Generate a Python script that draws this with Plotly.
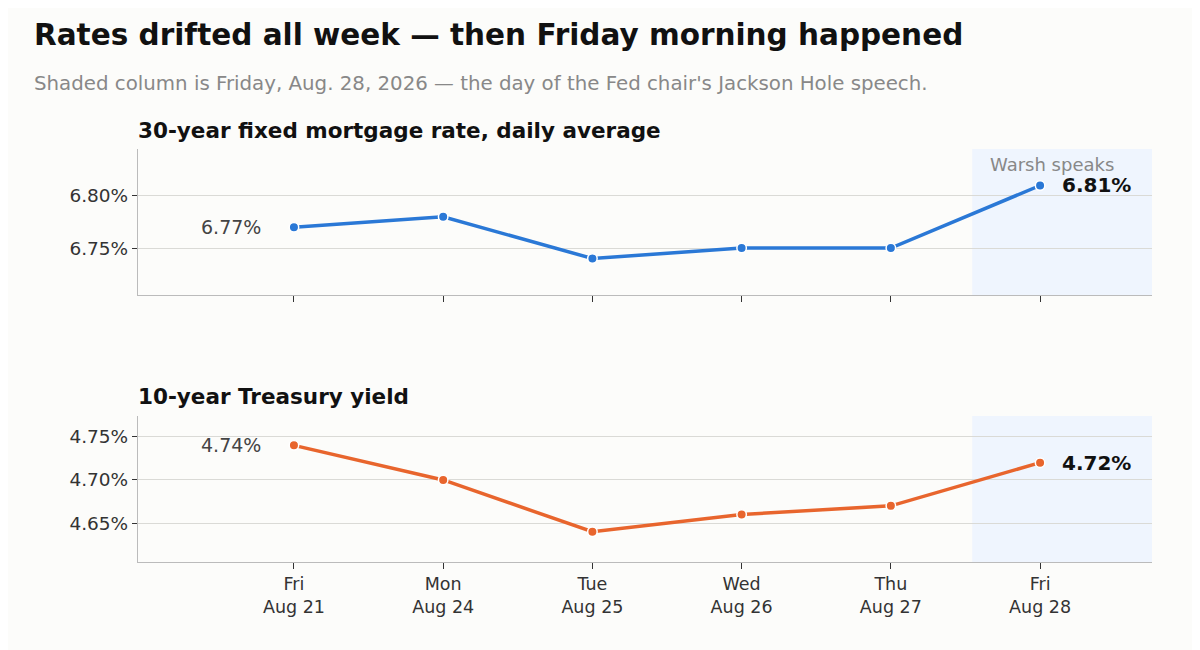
import plotly.graph_objects as go

days = ["Fri<br>Aug 21", "Mon<br>Aug 24", "Tue<br>Aug 25", "Wed<br>Aug 26", "Thu<br>Aug 27", "Fri<br>Aug 28"]
mortgage = [6.77, 6.78, 6.74, 6.75, 6.75, 6.81]
treasury = [4.74, 4.70, 4.64, 4.66, 4.67, 4.72]
mortgage_ticks = [6.75, 6.80]
treasury_ticks = [4.65, 4.70, 4.75]

BLUE = "#2a78d6"
ORANGE = "#e8652d"
FONT = "DejaVu Sans"
W, H = 1200, 650
OFF = 8  # page body margin
xpos = list(range(len(days)))


def px(x):
    return (x - OFF) / W


def py(y):
    return 1 - (y - OFF) / H


fig = go.Figure()

fig.add_trace(go.Scatter(
    x=xpos, y=mortgage, mode="lines+markers",
    line=dict(color=BLUE, width=3.5),
    marker=dict(size=9.5, color=BLUE, line=dict(color="white", width=1.5)),
    xaxis="x", yaxis="y", showlegend=False, hoverinfo="skip",
))
fig.add_trace(go.Scatter(
    x=xpos, y=treasury, mode="lines+markers",
    line=dict(color=ORANGE, width=3.5),
    marker=dict(size=9.5, color=ORANGE, line=dict(color="white", width=1.5)),
    xaxis="x2", yaxis="y2", showlegend=False, hoverinfo="skip",
))

xr = [-1.045, 5.75]
common_x = dict(range=xr, showgrid=False, zeroline=False, showline=True,
                linecolor="#bbbbbb", linewidth=1.2, ticks="outside", ticklen=6,
                tickcolor="#333333", tickvals=xpos, automargin=False,
                tickfont=dict(family=FONT, size=17.5, color="#333333"))
common_y = dict(showgrid=True, gridcolor="#dadad6", gridwidth=1.3, zeroline=False,
                showline=True, linecolor="#bbbbbb", linewidth=1.2, ticks="outside",
                ticklen=5, tickcolor="#333333", automargin=False,
                tickfont=dict(family=FONT, size=18.5, color="#333333"))

fig.update_layout(
    width=W, height=H,
    margin=dict(l=0, r=0, t=0, b=0),
    paper_bgcolor="#fcfcfa", plot_bgcolor="#fcfcfa",
    font=dict(family=FONT),
    xaxis=dict(common_x, domain=[px(138), px(1152)], anchor="y", ticktext=[""] * 6),
    yaxis=dict(common_y, domain=[py(295), py(149)], anchor="x", range=[6.705, 6.845],
               tickvals=mortgage_ticks, ticktext=[f"{v:.2f}%" for v in mortgage_ticks]),
    xaxis2=dict(common_x, domain=[px(138), px(1152)], anchor="y2", ticktext=days),
    yaxis2=dict(common_y, domain=[py(562), py(416)], anchor="x2", range=[4.605, 4.774],
                tickvals=treasury_ticks, ticktext=[f"{v:.2f}%" for v in treasury_ticks]),
    shapes=[
        dict(type="rect", xref="x", yref="y domain", x0=4.545, x1=xr[1], y0=0, y1=1,
             fillcolor="#eff5fe", line_width=0, layer="below"),
        dict(type="rect", xref="x2", yref="y2 domain", x0=4.545, x1=xr[1], y0=0, y1=1,
             fillcolor="#eff5fe", line_width=0, layer="below"),
    ],
)

ann = []
ann.append(dict(text="<b>Rates drifted all week — then Friday morning happened</b>",
                xref="paper", yref="paper", x=px(32), y=py(35),
                xanchor="left", yanchor="middle", showarrow=False,
                font=dict(family=FONT, size=29.5, color="#111111")))
ann.append(dict(text="Shaded column is Friday, Aug. 28, 2026 — the day of the Fed chair's Jackson Hole speech.",
                xref="paper", yref="paper", x=px(32), y=py(83),
                xanchor="left", yanchor="middle", showarrow=False,
                font=dict(family=FONT, size=19.8, color="#888888")))
ann.append(dict(text="<b>30-year fixed mortgage rate, daily average</b>",
                xref="paper", yref="paper", x=px(136), y=py(130),
                xanchor="left", yanchor="middle", showarrow=False,
                font=dict(family=FONT, size=21.5, color="#111111")))
ann.append(dict(text="<b>10-year Treasury yield</b>",
                xref="paper", yref="paper", x=px(136), y=py(396),
                xanchor="left", yanchor="middle", showarrow=False,
                font=dict(family=FONT, size=21.5, color="#111111")))
# start and end value labels
ann.append(dict(text=f"{mortgage[0]:.2f}%", xref="x", yref="y", x=xpos[0], y=mortgage[0],
                xanchor="right", yanchor="middle", xshift=-31, showarrow=False,
                font=dict(family=FONT, size=19, color="#444444")))
ann.append(dict(text=f"<b>{mortgage[-1]:.2f}%</b>", xref="x", yref="y", x=xpos[-1], y=mortgage[-1],
                xanchor="left", yanchor="middle", xshift=20, showarrow=False,
                font=dict(family=FONT, size=20, color="#111111")))
ann.append(dict(text=f"{treasury[0]:.2f}%", xref="x2", yref="y2", x=xpos[0], y=treasury[0],
                xanchor="right", yanchor="middle", xshift=-31, showarrow=False,
                font=dict(family=FONT, size=19, color="#444444")))
ann.append(dict(text=f"<b>{treasury[-1]:.2f}%</b>", xref="x2", yref="y2", x=xpos[-1], y=treasury[-1],
                xanchor="left", yanchor="middle", xshift=20, showarrow=False,
                font=dict(family=FONT, size=20, color="#111111")))
ann.append(dict(text="Warsh speaks", xref="x", yref="y domain", x=xpos[-1], y=1,
                xanchor="center", yanchor="top", xshift=12, yshift=-3, showarrow=False,
                font=dict(family=FONT, size=18, color="#888888")))
fig.update_layout(annotations=ann)

fig.write_html("out.html")
